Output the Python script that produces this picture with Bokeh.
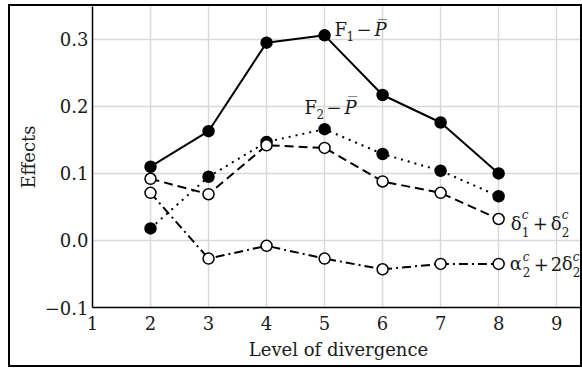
from bokeh.plotting import figure
from bokeh.models import ColumnDataSource, FixedTicker, Range1d
from bokeh.embed import file_html
from bokeh.resources import INLINE
from bokeh.core.properties import value

levels = [2, 3, 4, 5, 6, 7, 8]
f1_p = [0.110, 0.163, 0.295, 0.306, 0.217, 0.176, 0.100]
f2_p = [0.018, 0.095, 0.147, 0.166, 0.129, 0.104, 0.066]
delta_sum = [0.092, 0.069, 0.142, 0.138, 0.088, 0.071, 0.032]
alpha_sum = [0.071, -0.027, -0.008, -0.027, -0.043, -0.035, -0.035]
x_ticks = [1, 2, 3, 4, 5, 6, 7, 8, 9]
y_ticks = [-0.1, 0.0, 0.1, 0.2, 0.3]
y_tick_labels = {-0.1: "\u22120.1", 0.0: "0.0", 0.1: "0.1", 0.2: "0.2", 0.3: "0.3"}

FONT = "DejaVu Serif"
FS = "18px"
SS = "12px"
INK = "#1a1a1a"

p = figure(width=574, height=363, output_backend="svg", toolbar_location=None,
           x_range=Range1d(1, 9.48), y_range=Range1d(-0.1, 0.349),
           min_border_left=82, min_border_right=0, min_border_top=0, min_border_bottom=62)
p.styles = {"border": "2px solid black", "margin-left": "8px", "margin-top": "4px"}
p.outline_line_color = None
p.background_fill_color = "white"
p.border_fill_color = "white"

for ax in (p.xaxis, p.yaxis):
    ax.axis_line_color = "black"
    ax.axis_line_width = 1.5
    ax.major_tick_line_color = None
    ax.minor_tick_line_color = None
    ax.major_tick_out = 0
    ax.major_tick_in = 0
    ax.minor_tick_out = 0
    ax.minor_tick_in = 0
    ax.major_label_text_font = FONT
    ax.major_label_text_font_size = FS
    ax.major_label_text_color = INK
    ax.axis_label_text_font = FONT
    ax.axis_label_text_font_size = FS
    ax.axis_label_text_font_style = "normal"
    ax.axis_label_text_color = INK

p.xaxis.ticker = FixedTicker(ticks=x_ticks)
p.yaxis.ticker = FixedTicker(ticks=y_ticks)
p.yaxis.major_label_overrides = y_tick_labels
p.xaxis.axis_label = "Level of divergence"
p.yaxis.axis_label = "Effects"
p.xaxis.major_label_standoff = 8
p.yaxis.major_label_standoff = 4
p.xaxis.axis_label_standoff = 6
p.yaxis.axis_label_standoff = 3

p.xgrid.ticker = FixedTicker(ticks=x_ticks)
p.ygrid.ticker = FixedTicker(ticks=y_ticks)
p.grid.grid_line_color = "#d8d8d8"
p.grid.grid_line_width = 1.5

src = ColumnDataSource(dict(x=levels, f1=f1_p, f2=f2_p, d=delta_sum, a=alpha_sum))

p.line("x", "f1", source=src, line_color="black", line_width=2)
p.line("x", "f2", source=src, line_color="black", line_width=2, line_dash="2 5")
p.line("x", "d", source=src, line_color="black", line_width=2, line_dash="9 5")
p.line("x", "a", source=src, line_color="black", line_width=2, line_dash="9 4 2 4")

p.scatter("x", "f1", source=src, size=11, fill_color="black", line_color="black", line_width=1.5)
p.scatter("x", "f2", source=src, size=11, fill_color="black", line_color="black", line_width=1.5)
p.scatter("x", "d", source=src, size=11, fill_color="white", line_color="black", line_width=1.5)
p.scatter("x", "a", source=src, size=11, fill_color="white", line_color="black", line_width=1.5)


def rich(xv, yv, pieces):
    # pieces: (text, x_offset, y_offset, size, style)
    for txt, dx, dy, size, style in pieces:
        p.text(x=[xv], y=[yv], text=[txt], x_offset=dx, y_offset=dy,
               text_font=value(FONT), text_font_size=size, text_font_style=style,
               text_color=INK, text_baseline="middle", text_align="left")


peak = levels.index(5)
last = len(levels) - 1

rich(levels[peak], f1_p[peak], [
    ("F", 10, -6, FS, "normal"),
    ("1", 22, 1, SS, "normal"),
    ("\u2212", 32, -6, FS, "normal"),
    ("P\u0305", 50, -6, FS, "italic"),
])
rich(levels[peak], f2_p[peak], [
    ("F", -20, -22, FS, "normal"),
    ("2", -8, -15, SS, "normal"),
    ("\u2212", 2, -22, FS, "normal"),
    ("P\u0305", 20, -22, FS, "italic"),
])
rich(levels[last], delta_sum[last], [
    ("\u03b4", 12, 4, FS, "normal"),
    ("c", 23, -4, SS, "italic"),
    ("1", 23, 13, SS, "normal"),
    ("+", 34, 4, FS, "normal"),
    ("\u03b4", 52, 4, FS, "normal"),
    ("c", 63, -4, SS, "italic"),
    ("2", 63, 13, SS, "normal"),
])
rich(levels[last], alpha_sum[last], [
    ("\u03b1", 11, 0, FS, "normal"),
    ("c", 24, -7, SS, "italic"),
    ("2", 24, 8, SS, "normal"),
    ("+", 35, 0, FS, "normal"),
    ("2", 52, 0, FS, "normal"),
    ("\u03b4", 63, 0, FS, "normal"),
    ("c", 74, -7, SS, "italic"),
    ("2", 74, 8, SS, "normal"),
])

open("out.html", "w").write(file_html(p, INLINE))
